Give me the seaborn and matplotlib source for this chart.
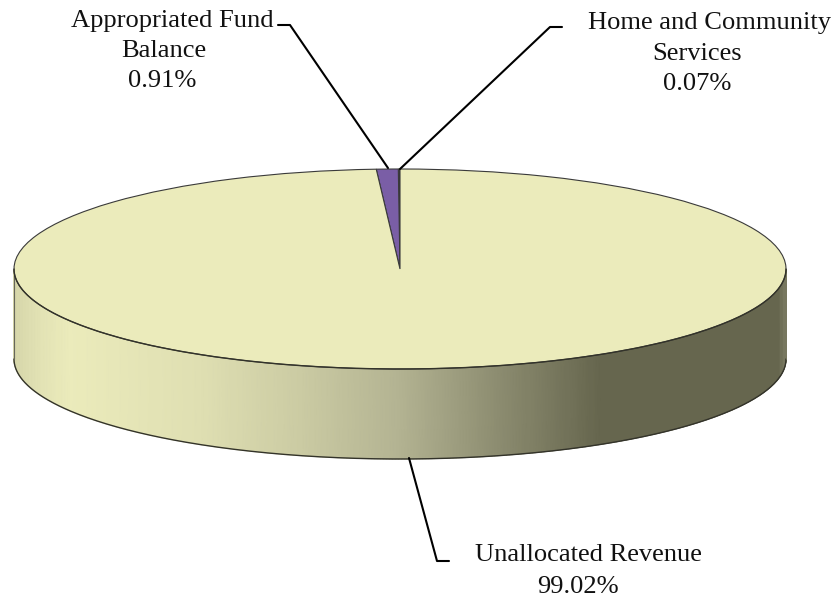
import numpy as np
import matplotlib
matplotlib.use("Agg")
import matplotlib.pyplot as plt
from matplotlib.colors import LinearSegmentedColormap
import seaborn as sns

label_lines = ["Home and Community", "Services", "0.07%",
               "Appropriated Fund", "Balance", "0.91%",
               "Unallocated Revenue", "99.02%"]
values = [0.07, 0.91, 99.02]
colors = ["#2e2a38", "#7a5ea6", "#ebebbb"]
wall_stops = [0.0, 0.03, 0.07, 0.24, 0.37, 0.50, 0.63, 0.76, 0.992, 1.0]
wall_shades = ["#d6d6aa", "#e2e2b4", "#ebebbb", "#dfdfb2", "#cbcba3", "#b3b392", "#8c8c70",
               "#66664e", "#66664e", "#77775f"]

W, H = 836, 598
CX, CY, RX, RY, DEPTH = 400, 269, 386, 100, 90
SQ = RY / RX

sns.set_theme(style="white")
plt.rcParams["font.family"] = ["Liberation Serif", "DejaVu Serif"]

fig = plt.figure(figsize=(W / 100, H / 100), dpi=100, facecolor="white")
ax = fig.add_axes([0, 0, 1, 1])


def py(y):
    return (CY - np.asarray(y, dtype=float)) / SQ


# side wall of the disc
t = np.linspace(np.pi, 2 * np.pi, 400)
xs = CX + RX * np.cos(t)
top = RX * np.sin(t)
bottom = top - DEPTH / SQ
X = np.vstack([xs, xs])
Y = np.vstack([top, bottom])
C = np.vstack([(xs - xs.min()) / (xs.max() - xs.min())] * 2)
cmap = LinearSegmentedColormap.from_list("wall", list(zip(wall_stops, wall_shades)))
ax.pcolormesh(X, Y, C, cmap=cmap, shading="gouraud", vmin=0, vmax=1, zorder=1)
edge = "#33332a"
ax.plot(xs, bottom, color=edge, lw=1.0, zorder=2)
ax.plot([xs[0], xs[0]], [top[0], bottom[0]], color="#66665a", lw=0.8, zorder=2)
ax.plot([xs[-1], xs[-1]], [top[-1], bottom[-1]], color="#77775f", lw=0.6, zorder=2)

# top face
wedges, _ = ax.pie(values, colors=colors, startangle=90, counterclock=True,
                   center=(CX, 0), radius=RX,
                   wedgeprops=dict(edgecolor="#3a3a3a", linewidth=0.8))
for w in wedges:
    w.set_zorder(3)
ax.plot(xs, top, color=edge, lw=1.0, zorder=3.5)

ax.set_aspect("auto")
ax.set_xlim(0, W)
ax.set_ylim(py(H), py(0))
ax.axis("off")

# leader lines
leaders = [
    ([278, 290, 388], [25, 25, 168]),
    ([562, 550, 400], [27, 27, 169]),
    ([409, 437, 449], [458, 561, 561]),
]
for lx, ly in leaders:
    ax.plot(lx, py(ly), color="black", lw=1.5, zorder=4, solid_joinstyle="round")

# labels, one text per line as the reference's lines are not centred on each other
positions = [(709, 23), (697.5, 54), (697, 84),
             (172.5, 20.5), (163.5, 51), (162.5, 81),
             (588.5, 555), (577.5, 587)]
for s, (x, y) in zip(label_lines, positions):
    ax.text(x, py(y), s, ha="center", va="center", fontsize=19.05, color="#111111", zorder=5)

fig.savefig("out.png", dpi=100, facecolor="white")
